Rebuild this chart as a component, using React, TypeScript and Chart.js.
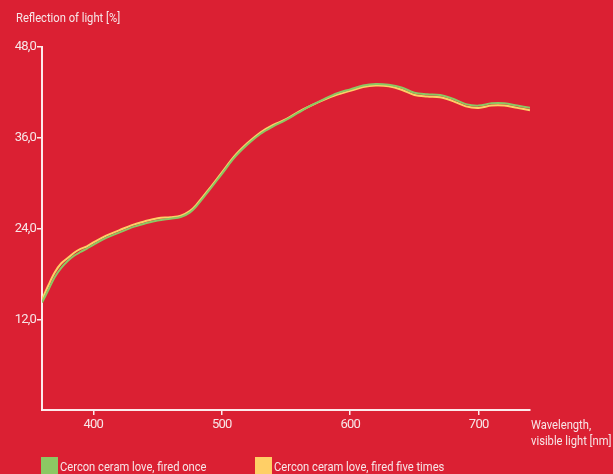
import { useEffect, useRef } from 'react';
import { Chart, registerables } from 'chart.js';

Chart.register(...registerables);

const wavelengths = [360, 365, 370, 375, 380, 385, 390, 395, 400, 410, 420, 430, 440, 450, 460, 468, 475, 480, 490, 500, 510, 520, 530, 540, 550, 560, 570, 580, 590, 600, 610, 620, 630, 640, 650, 660, 670, 680, 690, 700, 710, 720, 730, 740];
const firedOnce = [14.2, 15.9, 17.6, 18.8, 19.7, 20.4, 20.9, 21.35, 21.85, 22.75, 23.45, 24.15, 24.65, 25.05, 25.3, 25.5, 26.1, 26.9, 29.0, 31.2, 33.4, 35.1, 36.5, 37.5, 38.35, 39.35, 40.3, 41.15, 41.9, 42.4, 42.9, 43.1, 43.0, 42.65, 41.95, 41.75, 41.65, 41.15, 40.45, 40.25, 40.55, 40.55, 40.25, 39.95];
const firedFiveTimes = [14.6, 16.5, 18.2, 19.4, 20.1, 20.8, 21.3, 21.65, 22.15, 23.05, 23.75, 24.45, 24.95, 25.35, 25.5, 25.7, 26.3, 27.1, 29.2, 31.4, 33.6, 35.3, 36.7, 37.7, 38.45, 39.45, 40.3, 41.05, 41.7, 42.2, 42.7, 42.9, 42.8, 42.35, 41.65, 41.45, 41.35, 40.85, 40.15, 39.95, 40.25, 40.25, 39.95, 39.65];
const xTicks = [400, 500, 600, 700];
const yTicks = [12, 24, 36, 48];
const seriesLabels = ['Cercon ceram love, fired once', 'Cercon ceram love, fired five times'];
const yTitle = 'Reflection of light [%]';
const xTitle = ['Wavelength,', 'visible light [nm]'];

const BG = '#db2033';
const TEXT = '#f7e6e8';
const AXIS = 'rgba(255,245,246,0.95)';
const GREEN = '#8cc863';
const YELLOW = '#ffcf66';
const FONT = 'Roboto, "Liberation Sans", sans-serif';
const FS = 13;
const SQUEEZE = 0.86;

function squeezedText(ctx: any, text: string, x: number, y: number) {
  ctx.save();
  ctx.translate(x, y);
  ctx.scale(SQUEEZE, 1);
  ctx.fillText(text, 0, 0);
  ctx.restore();
}

const decor = {
  id: 'decor',
  beforeDraw(chart: any) {
    const { ctx, width, height } = chart;
    ctx.save();
    ctx.fillStyle = BG;
    ctx.fillRect(0, 0, width, height);
    ctx.restore();
    ctx.letterSpacing = '-0.8px';
  },
  afterDraw(chart: any) {
    const { ctx, chartArea } = chart;
    ctx.save();
    ctx.letterSpacing = '0px';
    ctx.fillStyle = TEXT;
    ctx.font = `${FS}px ${FONT}`;
    ctx.textAlign = 'left';
    ctx.textBaseline = 'alphabetic';
    squeezedText(ctx, yTitle, 16, 21.5);
    squeezedText(ctx, xTitle[0], chartArea.right + 1, 429);
    squeezedText(ctx, xTitle[1], chartArea.right + 1, 445);
    const xs = [chartArea.left - 1, 255];
    chart.data.datasets.forEach((ds: any, i: number) => {
      const x = xs[i];
      ctx.fillStyle = ds.borderColor;
      ctx.fillRect(x, 457, 17, 17);
      ctx.fillStyle = TEXT;
      squeezedText(ctx, ds.label, x + 19, 471);
    });
    ctx.restore();
  },
};

export default function App() {
  const ref = useRef<HTMLCanvasElement>(null);
  useEffect(() => {
    if (!ref.current) return;
    const chart = new Chart(ref.current, {
      type: 'line',
      data: {
        datasets: [
          {
            label: seriesLabels[0],
            data: wavelengths.map((x, i) => ({ x, y: firedOnce[i] })),
            borderColor: GREEN,
            backgroundColor: GREEN,
          },
          {
            label: seriesLabels[1],
            data: wavelengths.map((x, i) => ({ x, y: firedFiveTimes[i] })),
            borderColor: YELLOW,
            backgroundColor: YELLOW,
          },
        ],
      },
      options: {
        animation: false,
        responsive: false,
        maintainAspectRatio: false,
        layout: { padding: { left: 0, top: 47, right: 83, bottom: 0 } },
        plugins: { legend: { display: false }, tooltip: { enabled: false } },
        elements: { point: { radius: 0 }, line: { tension: 0.35, borderWidth: 2 } },
        scales: {
          x: {
            type: 'linear',
            min: 360,
            max: 740,
            afterBuildTicks: (s: any) => { s.ticks = xTicks.map((v) => ({ value: v })); },
            afterFit: (s: any) => { s.height = 64; },
            grid: { drawOnChartArea: false, drawTicks: true, tickLength: 5, color: AXIS, lineWidth: 1.5 },
            border: { display: true, color: AXIS, width: 2 },
            ticks: { color: TEXT, font: { family: FONT, size: FS }, padding: 2, maxRotation: 0, callback: (v: any) => String(v) },
          },
          y: {
            type: 'linear',
            min: 0,
            max: 48,
            afterBuildTicks: (s: any) => { s.ticks = yTicks.map((v) => ({ value: v })); },
            afterFit: (s: any) => { s.width = 42; },
            grid: { drawOnChartArea: false, drawTicks: true, tickLength: 5, color: AXIS, lineWidth: 1.5 },
            border: { display: true, color: AXIS, width: 2 },
            ticks: { color: TEXT, font: { family: FONT, size: FS }, padding: 1, callback: (v: any) => Number(v).toFixed(1).replace('.', ',') },
          },
        },
      },
      plugins: [decor],
    } as any);
    return () => chart.destroy();
  }, []);
  return (
    <div style={{ position: 'fixed', left: 0, top: 0, width: 613, height: 474 }}>
      <canvas ref={ref} width={613} height={474} style={{ display: 'block', width: 613, height: 474 }} />
    </div>
  );
}
